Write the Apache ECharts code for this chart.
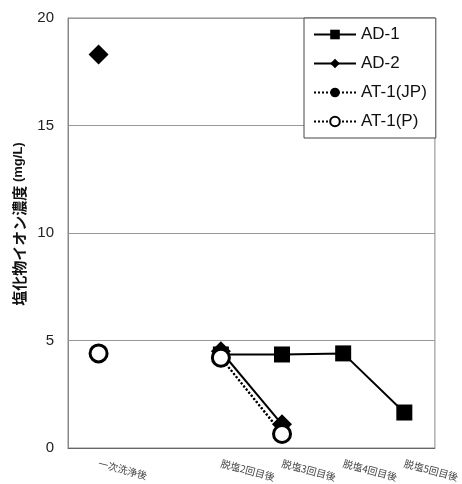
<!DOCTYPE html>
<html><head><meta charset="utf-8">
<script src="https://cdn.jsdelivr.net/npm/echarts@6/dist/echarts.min.js"></script>
<style>html,body{margin:0;padding:0;background:#fff}#c{width:462px;height:484px}</style>
</head><body><div id="c"></div>
<script>
const categories = ['一次洗浄後', '', '脱塩2回目後', '脱塩3回目後', '脱塩4回目後', '脱塩5回目後'];
const ad1 = [null, null, 4.35, 4.35, 4.4, 1.65];
const ad2 = [18.3, null, 4.5, 1.1, null, null];
const at1jp = [null, null, 4.2, 0.7, null, null];
const at1p = [4.4, null, 4.2, 0.65, null, null];
const yTicks = [0, 5, 10, 15, 20];

const chart = echarts.init(document.getElementById('c'));
const font = '"Liberation Sans", Arial, sans-serif';
chart.setOption({
  animation: false,
  backgroundColor: '#fff',
  grid: { left: 68, right: 25, top: 18, bottom: 36, show: true, borderColor: '#888', borderWidth: 1 },
  legend: {
    orient: 'vertical', left: 304, top: 18,
    backgroundColor: '#fff', borderColor: '#444', borderWidth: 1,
    padding: [8, 9, 8, 9], itemGap: 12, itemWidth: 42, itemHeight: 12,
    textStyle: { fontFamily: font, fontSize: 17, color: '#111' },
    data: ['AD-1', 'AD-2', 'AT-1(JP)', 'AT-1(P)']
  },
  xAxis: {
    type: 'category', data: categories, boundaryGap: true,
    axisLine: { lineStyle: { color: '#666', width: 1 } },
    axisTick: { show: false },
    axisLabel: { rotate: -15, interval: 0, fontSize: 10, color: '#444', margin: 15,
      fontFamily: '"Noto Sans CJK JP", sans-serif' }
  },
  yAxis: {
    type: 'value', min: yTicks[0], max: yTicks[yTicks.length - 1], interval: 5,
    axisLine: { show: true, lineStyle: { color: '#888' } },
    axisTick: { show: false },
    splitLine: { lineStyle: { color: '#999', width: 1 } },
    axisLabel: { fontSize: 15, color: '#222', fontFamily: font, margin: 14 },
    name: '{a|塩化物イオン濃度}{b| (mg/L)}', nameLocation: 'middle', nameGap: 40, nameRotate: 90,
    nameTextStyle: { padding: [0, 0, 0, 18], rich: {
      a: { fontSize: 15, fontWeight: 'bold', color: '#111', fontFamily: '"Noto Sans CJK JP", sans-serif' },
      b: { fontSize: 13, fontWeight: 'bold', color: '#111', fontFamily: font }
    } }
  },
  series: [
    { name: 'AD-1', type: 'line', data: ad1, symbol: 'rect', symbolSize: 16,
      itemStyle: { color: '#000' }, lineStyle: { color: '#000', width: 2 }, z: 2 },
    { name: 'AD-2', type: 'line', data: ad2, symbol: 'diamond', symbolSize: 20,
      itemStyle: { color: '#000' }, lineStyle: { color: '#000', width: 2 }, z: 3 },
    { name: 'AT-1(JP)', type: 'line', data: at1jp, symbol: 'circle', symbolSize: 16,
      itemStyle: { color: '#000' }, lineStyle: { color: '#000', width: 2, type: 'dotted' }, z: 4 },
    { name: 'AT-1(P)', type: 'line', data: at1p, symbol: 'circle', symbolSize: 17,
      itemStyle: { color: '#fff', borderColor: '#000', borderWidth: 3 },
      lineStyle: { color: '#000', width: 2, type: 'dotted' }, z: 5 }
  ]
});
</script></body></html>
